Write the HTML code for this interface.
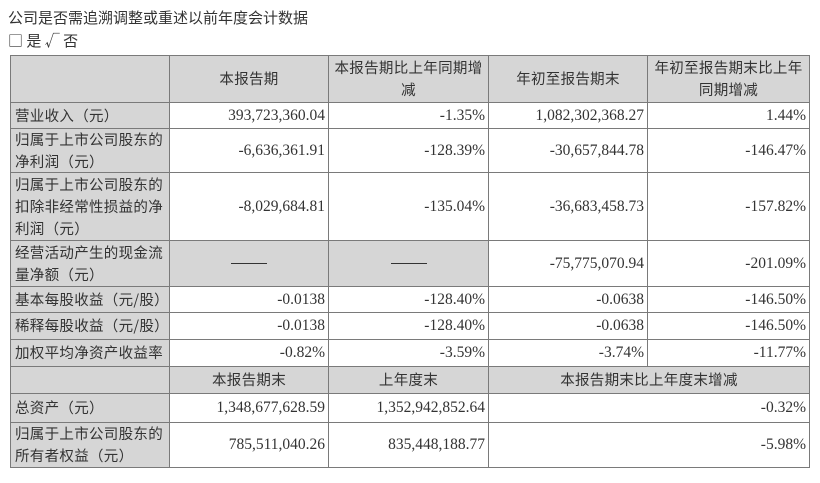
<!DOCTYPE html>
<html><head><meta charset="utf-8"><style>
body{margin:0;width:820px;height:483px;background:#fff;position:relative;overflow:hidden;font-family:"Liberation Serif","Noto Serif CJK SC",serif;color:#333}
.t{position:absolute;left:8px;font-family:"Noto Sans CJK SC",sans-serif;font-size:15px;color:#333;line-height:20px}
.c{position:absolute;box-sizing:border-box;border:1px solid #7a7a7a;display:flex;align-items:center;font-size:15px;line-height:22px;overflow:hidden;white-space:nowrap}
.g{background:#d6d6d6}
.l{font-family:"Noto Sans CJK SC",sans-serif;padding-left:4px;letter-spacing:0.3px;justify-content:flex-start;font-size:14.5px}
.h{font-family:"Noto Sans CJK SC",sans-serif;justify-content:center;text-align:center;letter-spacing:0.3px;font-size:14.5px}
.n{justify-content:flex-end;padding-right:3px;font-size:15.5px}
.d{justify-content:center}
.d span{display:block;width:36px;border-top:1px solid #333}
</style></head><body>
<div class="t" style="top:8px">公司是否需追溯调整或重述以前年度会计数据</div>
<div class="t" style="top:31px">□ 是 √ 否</div>
<div id="tb"></div>
<script>
var X=[10,169,328,488,647,809],Y=[55,102,128,172,240,286,312,339,366,393,422,467];
var rows=[
[["g",""],["gh","本报告期"],["gh","本报告期比上年同期增<br>减"],["gh","年初至报告期末"],["gh","年初至报告期末比上年<br>同期增减"]],
[["gl","营业收入（元）"],["n","393,723,360.04"],["n","-1.35%"],["n","1,082,302,368.27"],["n","1.44%"]],
[["gl","归属于上市公司股东的<br>净利润（元）"],["n","-6,636,361.91"],["n","-128.39%"],["n","-30,657,844.78"],["n","-146.47%"]],
[["gl","归属于上市公司股东的<br>扣除非经常性损益的净<br>利润（元）"],["n","-8,029,684.81"],["n","-135.04%"],["n","-36,683,458.73"],["n","-157.82%"]],
[["gl","经营活动产生的现金流<br>量净额（元）"],["gd",""],["gd",""],["n","-75,775,070.94"],["n","-201.09%"]],
[["gl","基本每股收益（元/股）"],["n","-0.0138"],["n","-128.40%"],["n","-0.0638"],["n","-146.50%"]],
[["gl","稀释每股收益（元/股）"],["n","-0.0138"],["n","-128.40%"],["n","-0.0638"],["n","-146.50%"]],
[["gl","加权平均净资产收益率"],["n","-0.82%"],["n","-3.59%"],["n","-3.74%"],["n","-11.77%"]],
[["g",""],["gh","本报告期末"],["gh","上年度末"],["gh2","本报告期末比上年度末增减"]],
[["gl","总资产（元）"],["n","1,348,677,628.59"],["n","1,352,942,852.64"],["n2","-0.32%"]],
[["gl","归属于上市公司股东的<br>所有者权益（元）"],["n","785,511,040.26"],["n","835,448,188.77"],["n2","-5.98%"]]
];
var h="";
rows.forEach(function(r,i){var ci=0;r.forEach(function(c){var t=c[0],span=t.slice(-1)=="2"?2:1;var x0=X[ci],x1=X[ci+span];ci+=span;
var cls="c";if(t[0]=="g")cls+=" g";if(t.indexOf("l")>=0)cls+=" l";else if(t.indexOf("h")>=0)cls+=" h";else if(t.indexOf("n")>=0)cls+=" n";else if(t.indexOf("d")>=0)cls+=" d";
var txt=t.indexOf("d")>=0?"<span></span>":"<div>"+c[1]+"</div>";
h+='<div class="'+cls+'" style="left:'+x0+'px;top:'+Y[i]+'px;width:'+(x1-x0+1)+'px;height:'+(Y[i+1]-Y[i]+1)+'px">'+txt+'</div>';});});
document.getElementById("tb").innerHTML=h;
</script>
</body></html>
